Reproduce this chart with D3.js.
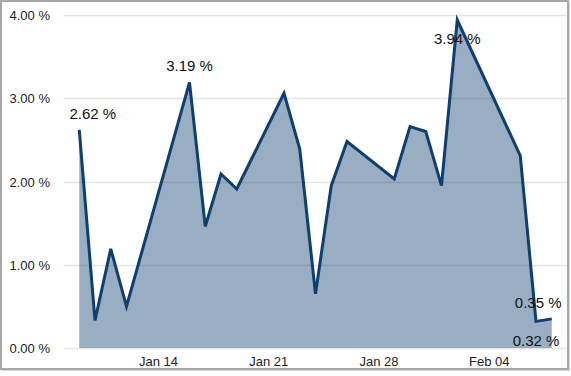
<!DOCTYPE html>
<html>
<head>
<meta charset="utf-8">
<script src="https://cdn.jsdelivr.net/npm/d3@7"></script>
<style>
  html, body { margin: 0; padding: 0; background: #fff; }
  svg { display: block; font-family: "Liberation Sans", Arial, sans-serif; }
</style>
</head>
<body>
<svg id="chart" width="571" height="376"></svg>
<script>
// ---- data ----
const dates = ["2019-01-09","2019-01-10","2019-01-11","2019-01-12","2019-01-16","2019-01-17","2019-01-18","2019-01-19",
  "2019-01-22","2019-01-23","2019-01-24","2019-01-25","2019-01-26","2019-01-29","2019-01-30","2019-01-31",
  "2019-02-01","2019-02-02","2019-02-06","2019-02-07","2019-02-08"];
const values = [2.62, 0.33, 1.19, 0.50, 3.19, 1.46, 2.09, 1.91,
  3.06, 2.39, 0.65, 1.95, 2.48, 2.03, 2.66, 2.60,
  1.95, 3.94, 2.31, 0.32, 0.35];
const labelledIndices = [0, 4, 17, 19, 20];
const yTicks = [0, 1, 2, 3, 4];
const xTickDates = ["2019-01-14","2019-01-21","2019-01-28","2019-02-04"];
const xDomain = ["2019-01-08","2019-02-09"];

(function () {
// ---- setup ----
const parse = d3.utcParse("%Y-%m-%d");
const data = dates.map((d, i) => ({ date: parse(d), value: values[i] }));
const svg = d3.select("#chart");
const mLeft = 63.5, mRight = 567.5, mTop = 15, mBottom = 348;

const x = d3.scaleUtc().domain(xDomain.map(parse)).range([mLeft, mRight]);
const y = d3.scaleLinear().domain([0, 4]).range([mBottom, mTop]);

// frame
svg.append("rect").attr("x", 1).attr("y", 1).attr("width", 567).attr("height", 368)
  .attr("fill", "none").attr("stroke", "#a8a8a8").attr("stroke-width", 2);
svg.append("path").attr("d", "M569.5,2V370.5H2").attr("fill", "none").attr("stroke", "#d8d8d8").attr("stroke-width", 1);

// gridlines
svg.append("g").selectAll("line").data(yTicks).join("line")
  .attr("x1", mLeft).attr("x2", mRight - 1)
  .attr("y1", d => Math.round(y(d)) + 0.5).attr("y2", d => Math.round(y(d)) + 0.5)
  .attr("stroke", "#e4e4e4").attr("stroke-width", 1.5);

// y axis labels
const yAxis = d3.axisLeft(y).tickValues(yTicks).tickSize(0).tickPadding(0)
  .tickFormat(d => d3.format(".2f")(d) + " %");
const gy = svg.append("g").attr("transform", "translate(50,0)").call(yAxis);
gy.select(".domain").remove();
gy.selectAll("text").attr("font-size", 13).attr("fill", "#222")
  .attr("font-family", "'Liberation Sans', Arial, sans-serif").attr("dy", "0.35em");

// x axis labels
const xAxis = d3.axisBottom(x).tickValues(xTickDates.map(parse)).tickSize(0).tickPadding(0)
  .tickFormat(d3.utcFormat("%b %d"));
const gx = svg.append("g").attr("transform", "translate(0,357)").call(xAxis);
gx.select(".domain").remove();
gx.selectAll("text").attr("font-size", 13).attr("fill", "#222")
  .attr("font-family", "'Liberation Sans', Arial, sans-serif").attr("dy", "0.71em");

// area and line
const area = d3.area().x(d => x(d.date)).y0(y(0)).y1(d => y(d.value));
const line = d3.line().x(d => x(d.date)).y(d => y(d.value));
svg.append("path").datum(data).attr("d", area).attr("fill", "#0e3f6f").attr("fill-opacity", 0.42);
svg.append("path").datum(data).attr("d", line).attr("fill", "none")
  .attr("stroke", "#0e3f6f").attr("stroke-width", 3).attr("stroke-linejoin", "miter").attr("stroke-miterlimit", 4);

// data labels
const maxV = d3.max(values), minV = d3.min(values);
const lg = svg.append("g");
labelledIndices.forEach(i => {
  const d = data[i];
  const below = d.value === maxV || d.value === minV;
  const t = lg.append("text").attr("font-size", 15).attr("fill", "#111")
    .text(d3.format(".2f")(d.value) + " %");
  const w = t.node().getComputedTextLength();
  let tx = x(d.date) - w / 2;
  tx = Math.max(mLeft + 6, Math.min(mRight - 6 - w, tx));
  t.attr("x", tx).attr("y", below ? y(d.value) + 24.5 : y(d.value) - 11);
});
})();
</script>
</body>
</html>
